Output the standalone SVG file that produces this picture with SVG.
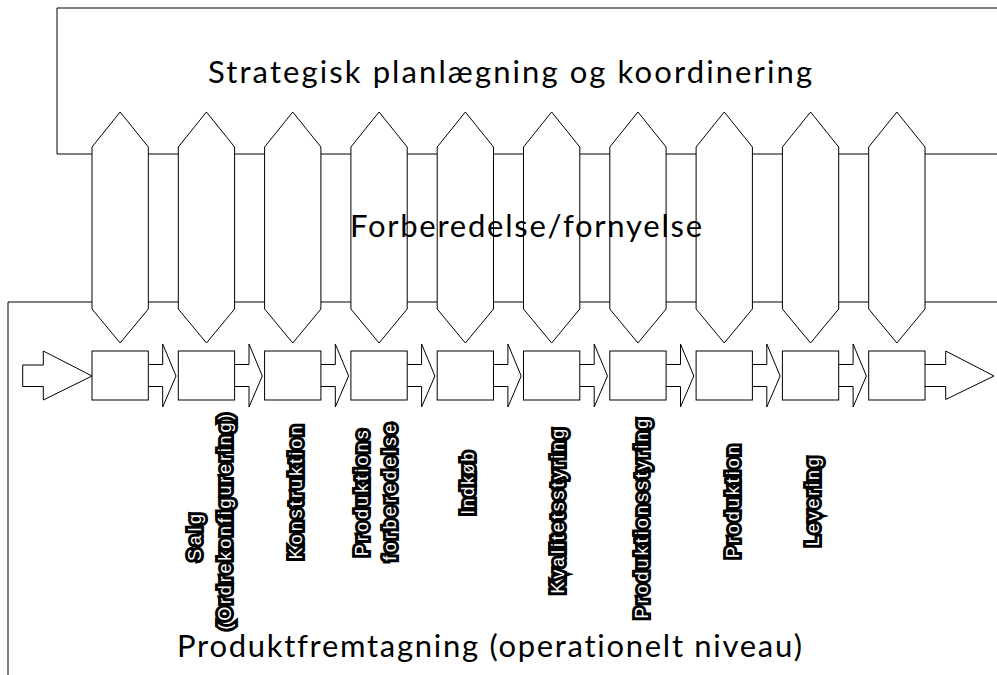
<svg xmlns="http://www.w3.org/2000/svg" width="997" height="675" viewBox="0 0 997 675">
<style>
.frame{fill:none;stroke:#000;stroke-width:1}
.hex,.box,.arrow{fill:#fff;stroke:#000;stroke-width:1}
.big{font-family:Lato,"Open Sans","Liberation Sans",sans-serif;font-size:31px;fill:#000;font-variant-ligatures:none}
.vl{font-family:"Liberation Sans",Arial,sans-serif;font-size:18px;fill:#fff;stroke:#000;stroke-width:6;stroke-linejoin:miter;paint-order:stroke;text-anchor:middle;dominant-baseline:central}
</style>
<rect width="997" height="675" fill="#fff"/>
<g id="strategic">
<path class="frame" d="M997,8 H57 V154 H997"/>
<text class="big" x="208" y="83" textLength="604" lengthAdjust="spacing">Strategisk planlægning og koordinering</text>
</g>
<g id="operational">
<path class="frame" d="M997,302 H8 V675"/>
<text class="big" x="177" y="657" textLength="625" lengthAdjust="spacing">Produktfremtagning (operationelt niveau)</text>
</g>
<g id="hexagons">
<g id="hex1" transform="translate(92,0)"><path class="hex" d="M0,147 L28.15,112 L56.3,147 V309 L28.15,343 L0,309 Z"/></g>
<g id="hex2" transform="translate(178.3,0)"><path class="hex" d="M0,147 L28.15,112 L56.3,147 V309 L28.15,343 L0,309 Z"/></g>
<g id="hex3" transform="translate(264.6,0)"><path class="hex" d="M0,147 L28.15,112 L56.3,147 V309 L28.15,343 L0,309 Z"/></g>
<g id="hex4" transform="translate(350.9,0)"><path class="hex" d="M0,147 L28.15,112 L56.3,147 V309 L28.15,343 L0,309 Z"/></g>
<g id="hex5" transform="translate(437.2,0)"><path class="hex" d="M0,147 L28.15,112 L56.3,147 V309 L28.15,343 L0,309 Z"/></g>
<g id="hex6" transform="translate(523.5,0)"><path class="hex" d="M0,147 L28.15,112 L56.3,147 V309 L28.15,343 L0,309 Z"/></g>
<g id="hex7" transform="translate(609.8,0)"><path class="hex" d="M0,147 L28.15,112 L56.3,147 V309 L28.15,343 L0,309 Z"/></g>
<g id="hex8" transform="translate(696.1,0)"><path class="hex" d="M0,147 L28.15,112 L56.3,147 V309 L28.15,343 L0,309 Z"/></g>
<g id="hex9" transform="translate(782.4,0)"><path class="hex" d="M0,147 L28.15,112 L56.3,147 V309 L28.15,343 L0,309 Z"/></g>
<g id="hex10" transform="translate(868.7,0)"><path class="hex" d="M0,147 L28.15,112 L56.3,147 V309 L28.15,343 L0,309 Z"/></g>
</g>
<g id="preparation">
<text class="big" x="350" y="237" textLength="352" lengthAdjust="spacing">Forberedelse/fornyelse</text>
</g>
<g id="connectors">
<path class="arrow" d="M22.7,365 H43.3 V351 L92,376 L43.3,400 V386.5 H22.7 Z"/>
<path class="arrow" transform="translate(148.3,0)" d="M0,364.5 H14.4 V344 L27.7,376 L14.4,407 V386.5 H0"/>
<path class="arrow" transform="translate(234.6,0)" d="M0,364.5 H14.4 V344 L27.7,376 L14.4,407 V386.5 H0"/>
<path class="arrow" transform="translate(320.9,0)" d="M0,364.5 H14.4 V344 L27.7,376 L14.4,407 V386.5 H0"/>
<path class="arrow" transform="translate(407.2,0)" d="M0,364.5 H14.4 V344 L27.7,376 L14.4,407 V386.5 H0"/>
<path class="arrow" transform="translate(493.5,0)" d="M0,364.5 H14.4 V344 L27.7,376 L14.4,407 V386.5 H0"/>
<path class="arrow" transform="translate(579.8,0)" d="M0,364.5 H14.4 V344 L27.7,376 L14.4,407 V386.5 H0"/>
<path class="arrow" transform="translate(666.1,0)" d="M0,364.5 H14.4 V344 L27.7,376 L14.4,407 V386.5 H0"/>
<path class="arrow" transform="translate(752.4,0)" d="M0,364.5 H14.4 V344 L27.7,376 L14.4,407 V386.5 H0"/>
<path class="arrow" transform="translate(838.7,0)" d="M0,364.5 H14.4 V344 L27.7,376 L14.4,407 V386.5 H0"/>
<path class="arrow" d="M925,364.5 H945.7 V351 L994,376 L945.7,399.5 V386.5 H925"/>
</g>
<g id="boxes">
<g id="box1"><rect class="box" x="92" y="351" width="56.3" height="49"/></g>
<g id="box2"><rect class="box" x="178.3" y="351" width="56.3" height="49"/></g>
<g id="box3"><rect class="box" x="264.6" y="351" width="56.3" height="49"/></g>
<g id="box4"><rect class="box" x="350.9" y="351" width="56.3" height="49"/></g>
<g id="box5"><rect class="box" x="437.2" y="351" width="56.3" height="49"/></g>
<g id="box6"><rect class="box" x="523.5" y="351" width="56.3" height="49"/></g>
<g id="box7"><rect class="box" x="609.8" y="351" width="56.3" height="49"/></g>
<g id="box8"><rect class="box" x="696.1" y="351" width="56.3" height="49"/></g>
<g id="box9"><rect class="box" x="782.4" y="351" width="56.3" height="49"/></g>
<g id="box10"><rect class="box" x="868.7" y="351" width="56.3" height="49"/></g>
</g>
<g id="labels">
<text class="vl" transform="translate(195,537.4) rotate(-90)" textLength="47" lengthAdjust="spacing">Salg</text>
<text class="vl" transform="translate(224.5,521.7) rotate(-90)" textLength="216" lengthAdjust="spacing">(Ordrekonfigurering)</text>
<text class="vl" transform="translate(296,492.5) rotate(-90)" textLength="134" lengthAdjust="spacing">Konstruktion</text>
<text class="vl" transform="translate(362,493.3) rotate(-90)" textLength="126" lengthAdjust="spacing">Produktions</text>
<text class="vl" transform="translate(389.7,492.2) rotate(-90)" textLength="137" lengthAdjust="spacing">forberedelse</text>
<text class="vl" transform="translate(467.8,483.3) rotate(-90)" textLength="63" lengthAdjust="spacing">Indkøb</text>
<text class="vl" transform="translate(557.5,511.3) rotate(-90)" textLength="165" lengthAdjust="spacing">Kvalitetsstyring</text>
<text class="vl" transform="translate(641.7,518.7) rotate(-90)" textLength="200" lengthAdjust="spacing">Produktionsstyring</text>
<text class="vl" transform="translate(732.5,501.7) rotate(-90)" textLength="113" lengthAdjust="spacing">Produktion</text>
<text class="vl" transform="translate(812.5,501.7) rotate(-90)" textLength="89" lengthAdjust="spacing">Levering</text>
</g>
</svg>
